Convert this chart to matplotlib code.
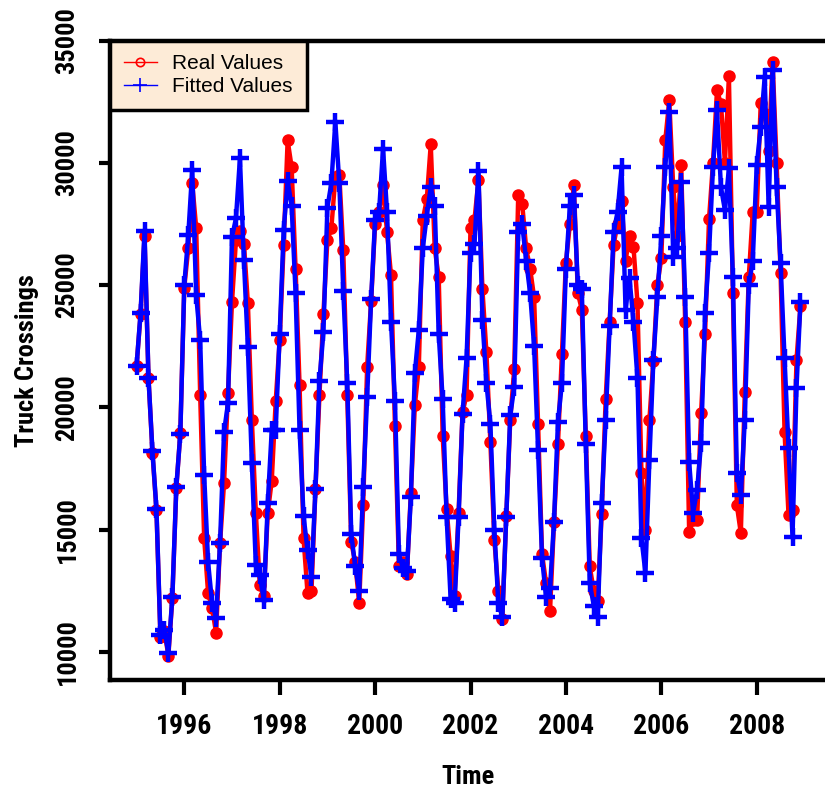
import numpy as np
import matplotlib
matplotlib.use("Agg")
import matplotlib.pyplot as plt
from matplotlib import font_manager
from matplotlib.lines import Line2D

# monthly truck crossings, Jan 1995 .. Dec 2008 (one row per year)
real_values = [
    21700, 23800, 27000, 21200, 18150, 15800, 10600, 10850, 9850, 12200, 16700, 18950,
    24900, 26500, 29170, 27330, 20500, 14660, 12400, 11800, 10780, 14450, 16900, 20600,
    24300, 26830, 27200, 26700, 24260, 19500, 15700, 12740, 12300, 15680, 17000, 20250,
    22750, 26660, 30920, 29830, 25670, 20910, 14660, 12410, 12500, 16660, 20500, 23830,
    26830, 27330, 29420, 29500, 26420, 20500, 14500, 13660, 12000, 16000, 21660, 24330,
    27500, 28000, 29080, 27170, 25420, 19250, 13500, 13700, 13200, 16500, 20080, 21660,
    27670, 28500, 30750, 26500, 25330, 18830, 15830, 13920, 12300, 15700, 19800, 20500,
    27330, 27670, 29300, 24830, 22250, 18580, 14580, 12500, 11330, 15580, 19500, 21580,
    28670, 28330, 26500, 25670, 24500, 19330, 14000, 12830, 11670, 15300, 18500, 22170,
    25920, 27500, 29080, 24670, 24000, 18830, 13500, 12500, 12100, 15660, 20330, 23500,
    26660, 27500, 28420, 26000, 27000, 26560, 24260, 17310, 15000, 19480, 21900, 25000,
    26100, 30920, 32550, 29000, 27000, 29900, 23490, 14910, 15390, 15400, 19770, 23000,
    27700, 30000, 32960, 32420, 30000, 33530, 24660, 16000, 14860, 20620, 25330, 28000,
    28000, 32430, 32000, 30500, 34110, 30000, 25480, 19000, 15600, 15800, 21930, 24150,
]

fitted_values = [
    21700, 23850, 27200, 21200, 18200, 15850, 10700, 10900, 9950, 12250, 16750, 18900,
    25000, 27030, 29700, 24580, 22750, 17250, 13660, 12000, 11390, 14450, 19000, 20170,
    26960, 27730, 30180, 26010, 22460, 17720, 13550, 13150, 12120, 16090, 19070, 19080,
    23000, 27250, 29250, 28250, 24660, 19080, 15580, 14160, 13080, 16660, 21080, 23080,
    28170, 29170, 31670, 29170, 24750, 21000, 14830, 13500, 12500, 16750, 20420, 24420,
    27670, 28000, 30580, 28000, 23500, 20250, 14000, 13420, 13300, 16330, 21420, 23170,
    26500, 27830, 29000, 28250, 23000, 20330, 15500, 12170, 12000, 15500, 19750, 22000,
    26330, 26670, 29670, 23580, 21000, 19330, 15000, 12000, 11420, 15500, 19670, 20830,
    27170, 27500, 26000, 24660, 22500, 18250, 13830, 12250, 12600, 15330, 19420, 21000,
    25670, 28250, 28670, 25000, 24830, 18500, 12830, 11900, 11420, 16080, 19500, 23330,
    27170, 28000, 29830, 24000, 25280, 23490, 21190, 14660, 13230, 17840, 21920, 24510,
    27000, 29830, 32080, 26150, 26500, 29210, 24510, 17770, 15690, 16620, 18540, 23850,
    26300, 29830, 32140, 29000, 28060, 29770, 25330, 17310, 16410, 19480, 25000, 26000,
    29900, 31450, 33500, 28190, 33780, 29000, 25890, 22000, 18330, 14700, 20780, 24300,
]

start_year = 1995
x_ticks = [1996, 1998, 2000, 2002, 2004, 2006, 2008]
y_ticks = [10000, 15000, 20000, 25000, 30000, 35000]

t = start_year + np.arange(len(real_values)) / 12.0

# narrow bold font if there is one, else Arial-like
names = {f.name for f in font_manager.fontManager.ttflist}
narrow, big = 'Liberation Sans', False
for cand in ['Liberation Sans Narrow', 'DejaVu Sans Condensed', 'Roboto Condensed']:
    if cand in names:
        narrow, big = cand, True
        break
plain = 'Liberation Sans' if 'Liberation Sans' in names else 'DejaVu Sans'
xt_size = 20 if big else 17.5
yt_size = 19 if big else 17
lab_size = 19 if big else 16.5

fig = plt.figure(figsize=(8.25, 7.88), dpi=100)
ax = fig.add_axes([110 / 825, 108 / 788, 717 / 825, 639.5 / 788])

ax.plot(t, real_values, color='red', lw=3.2, marker='o', ms=8,
        mfc='red', mec='red', zorder=2)
ax.plot(t, fitted_values, color='blue', lw=3.2, marker='+', ms=13,
        mew=3.2, zorder=3)

ax.set_xlim(1994.443, 2009.473)
ax.set_ylim(8856, 35000)
ax.set_xticks(x_ticks)
ax.set_yticks(y_ticks)
ax.set_xticklabels([str(v) for v in x_ticks], fontfamily=narrow,
                   fontweight='bold', fontsize=xt_size)
ax.set_yticklabels([str(v) for v in y_ticks], fontfamily=narrow,
                   fontweight='bold', fontsize=yt_size, rotation=90, va='center')
ax.tick_params(axis='x', length=11, width=3, pad=13)
ax.tick_params(axis='y', length=8, width=3, pad=14)

for side in ['left', 'bottom', 'top']:
    ax.spines[side].set_linewidth(3.2)
ax.spines['right'].set_visible(False)

ax.set_xlabel('Time', fontfamily=narrow, fontweight='bold', fontsize=lab_size, labelpad=18)
ax.set_ylabel('Truck Crossings', fontfamily=narrow, fontweight='bold',
              fontsize=lab_size, labelpad=12)

handles = [
    Line2D([], [], color='red', lw=1, marker='o', ms=6, mfc='none', mec='red', mew=1.2),
    Line2D([], [], color='blue', lw=1, marker='+', ms=10, mew=1.2),
]
leg = ax.legend(handles, ['Real Values', 'Fitted Values'], loc='upper left',
                bbox_to_anchor=(0, 1), borderaxespad=0, borderpad=0.65,
                handlelength=1.6, handletextpad=0.75, labelspacing=0.2,
                fancybox=False, framealpha=1, facecolor='#FDEBD7',
                edgecolor='black', prop={'family': plain, 'size': 15})
leg.get_frame().set_linewidth(2.5)
leg.set_zorder(5)

fig.savefig('out.png', dpi=100)
